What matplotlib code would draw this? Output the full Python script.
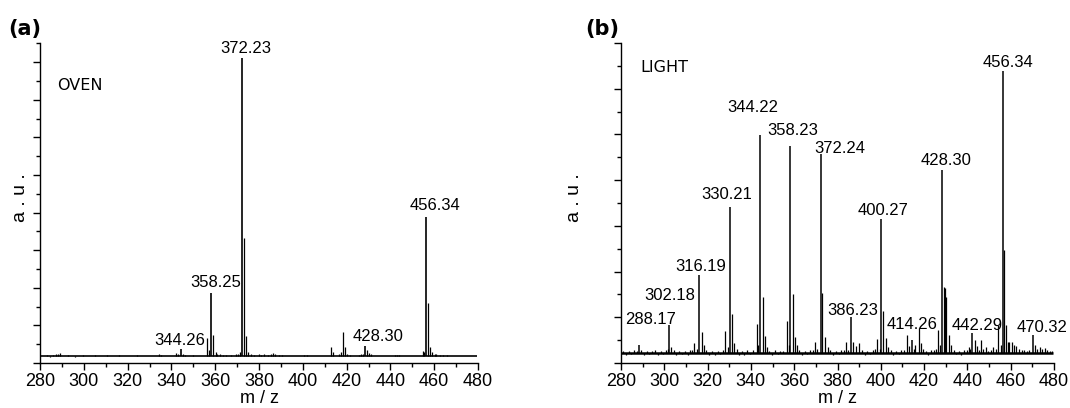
import numpy as np
import matplotlib.pyplot as plt
from matplotlib.ticker import MultipleLocator

plt.rcParams['font.family'] = ['Liberation Sans', 'DejaVu Sans']

# ---- OVEN spectrum (relative intensity, %) ----
oven_label_mz = [344.26, 358.25, 372.23, 428.30, 456.34]
oven_label_int = [2.3, 21.1, 100.0, 3.4, 46.6]

oven_mz = [283.0, 284.5, 286.0, 287.3, 288.2, 289.0, 292.8, 296.0, 299.5, 305.0,
           310.5, 316.0, 324.5, 334.3, 335.3, 342.2, 343.2, 345.3, 346.3, 350.0,
           356.4, 357.3, 359.2, 360.2, 361.0, 362.0, 363.5, 365.0, 367.0, 369.5,
           370.5, 371.4, 373.2, 374.2, 375.2, 376.2, 377.5, 380.0, 381.0, 382.5,
           384.0, 385.5, 386.3, 387.5, 389.0, 390.5, 400.5, 402.0, 412.8, 413.6,
           416.5, 417.4, 418.3, 419.2, 420.3, 421.5, 425.5, 426.5, 427.3, 429.3,
           430.3, 431.2, 442.2, 443.2, 444.0, 454.8, 455.5, 457.3, 458.3, 459.2,
           460.2, 461.0, 462.5, 464.0, 466.0]
oven_int = [0.4, -0.5, 0.5, 0.8, 0.6, 0.9, 0.4, -0.4, 0.4, 0.5,
            0.3, 0.4, 0.5, 0.6, 0.5, 1.0, 0.7, 0.8, 0.5, 0.3,
            6.0, 2.0, 7.0, 1.5, 0.8, 0.6, 0.5, 0.4, 0.4, 0.6,
            0.8, 1.2, 39.6, 6.7, 1.5, 0.8, 0.5, 0.6, 0.5, 0.6,
            0.5, 0.7, 1.0, 0.6, 0.5, 0.4, 0.4, 0.5, 3.0, 1.5,
            0.6, 1.2, 8.0, 3.0, 0.8, 0.5, 0.4, 0.6, 0.8, 2.0,
            1.0, 0.6, 0.4, 0.5, 0.4, 1.7, 1.2, 17.8, 3.0, 1.5,
            0.8, 0.6, 0.5, 0.4, 0.3]

# ---- LIGHT spectrum (relative intensity, %) ----
light_label_mz = [288.17, 302.18, 316.19, 330.21, 344.22, 358.23, 372.24,
                  386.23, 400.27, 414.26, 428.30, 442.29, 456.34, 470.32]
light_label_int = [2.8, 9.9, 27.7, 51.8, 77.3, 73.4, 70.6,
                   12.8, 47.5, 4.5, 64.9, 7.1, 100.0, 6.4]

light_mz = [281.0, 282.2, 283.5, 284.8, 286.0, 287.2, 289.3, 290.5, 291.8, 293.0,
            294.4, 295.6, 297.0, 298.3, 299.6, 300.8, 301.5, 303.2, 304.4, 305.6,
            307.0, 308.3, 309.5, 310.8, 312.0, 313.0, 313.7, 315.2, 317.2, 318.2,
            319.4, 320.6, 322.0, 323.3, 324.6, 325.8, 327.0, 328.0, 329.2, 331.3,
            332.3, 333.4, 334.6, 335.8, 337.0, 338.3, 339.6, 340.8, 342.7, 343.4,
            345.4, 346.3, 347.3, 348.5, 349.7, 351.0, 352.3, 353.5, 354.8, 356.7,
            357.4, 359.4, 360.2, 361.2, 362.4, 363.6, 364.8, 366.0, 367.3, 368.5,
            369.6, 370.6, 373.0, 374.3, 375.5, 376.7, 378.0, 379.2, 380.5, 381.8,
            383.0, 383.8, 385.0, 387.2, 388.5, 390.0, 391.2, 392.5, 393.7, 395.0,
            396.2, 397.4, 398.3, 399.4, 401.0, 402.3, 403.3, 404.5, 405.8, 407.0,
            408.3, 409.5, 410.8, 412.0, 413.2, 415.2, 416.0, 417.6, 418.5, 419.6,
            420.8, 422.0, 423.2, 424.4, 425.3, 426.3, 427.3, 429.0, 429.6, 430.3,
            431.3, 432.5, 433.6, 434.8, 436.0, 437.2, 438.5, 439.8, 440.6, 441.3,
            443.3, 444.5, 445.5, 446.3, 447.4, 448.5, 449.7, 451.0, 452.0, 453.2,
            454.1, 455.3, 457.0, 457.8, 458.6, 459.4, 460.5, 461.5, 462.6, 463.8,
            465.0, 466.2, 467.4, 468.6, 471.2, 472.3, 473.4, 474.6, 475.7, 476.8,
            478.0, 479.0]
light_int = [0.8, -0.6, 0.7, -0.5, 0.9, 0.6, 1.2, -0.6, 0.8, -0.5,
             0.7, 0.9, -0.7, 0.8, -0.5, 1.0, 1.5, 2.0, 1.2, -0.6,
             0.8, -0.5, 0.7, -0.6, 0.9, 1.1, 3.5, 1.5, 7.4, 3.0,
             1.2, -0.6, 0.8, -0.8, 0.7, -0.5, 1.0, 7.8, 2.0, 13.8,
             3.5, 1.5, -0.6, 0.8, -0.7, 0.9, -0.5, 1.0, 10.3, 3.0,
             19.9, 6.0, 2.0, 0.8, -0.6, 0.9, -0.5, 0.8, 0.7, 11.3,
             3.0, 20.9, 5.7, 3.0, 1.0, -0.6, 0.8, -0.5, 0.9, 1.2,
             3.9, 1.5, 21.3, 5.7, 2.0, 0.9, -0.6, 0.8, -0.5, 0.9,
             1.0, 3.9, 1.2, 3.9, 2.5, 3.5, 1.0, -0.6, 0.8, -0.5,
             0.9, 1.5, 5.0, 1.5, 14.9, 5.3, 2.0, 1.0, -0.6, 0.8,
             -0.5, 0.9, 1.2, 6.4, 2.5, 1.5, 2.8, 8.9, 3.5, 1.5,
             0.8, -0.6, 0.9, 1.0, 1.5, 8.2, 3.0, 23.4, 23.0, 20.0,
             6.4, 3.0, 1.2, -0.5, 0.8, -0.6, 0.9, 1.2, 2.0, 1.5,
             4.6, 2.5, 1.2, 4.6, 1.5, 2.0, 0.8, 1.0, 2.0, 1.5,
             9.9, 3.0, 36.5, 9.9, 4.0, 4.0, 4.0, 3.0, 2.5, 1.5,
             1.0, 1.2, 0.8, 1.0, 3.0, 1.5, 2.0, 1.5, 1.8, 1.2,
             0.8, 0.6]

# label offsets from the peak tip, in pixels
oven_offsets = [(-1, 4), (4, 6), (4, 5), (13, 5), (9, 7)]
light_offsets = [(12, 21), (1, 25), (1, 4), (-3, 8), (-7, 23), (2, 11), (19, 1),
                 (2, 2), (2, 4), (0, 11), (4, 5), (5, 3), (5, 4), (9, 3)]


def draw_spectrum(ax, mz, inten, base_lw):
    ax.hlines(0, 280, 479.5, color='k', lw=base_lw)
    ax.vlines(mz, 0, inten, color='k', lw=0.9)


def style_axes(ax, y_low, y_high, y_step):
    ax.set_xlim(280, 480)
    ax.set_ylim(y_low, y_high)
    for side in ('top', 'right'):
        ax.spines[side].set_visible(False)
    for side in ('left', 'bottom'):
        ax.spines[side].set_linewidth(1.0)
    ax.xaxis.set_major_locator(MultipleLocator(20))
    ax.xaxis.set_minor_locator(MultipleLocator(10))
    ax.set_yticks(np.arange(y_low, y_high + 0.2, y_step))
    ax.set_yticks(np.arange(y_low + y_step / 2, y_high + 0.2, y_step), minor=True)
    ax.set_yticklabels([])
    ax.tick_params(which='major', length=5, width=1.0, direction='out',
                   labelsize=13, pad=2.5)
    ax.tick_params(which='minor', length=3, width=1.0, direction='out')


def label_peaks(ax, mz, inten, offsets):
    for m, h, (dx, dy) in zip(mz, inten, offsets):
        ax.annotate('%.2f' % m, xy=(m, h), xytext=(dx, dy),
                    textcoords='offset pixels', ha='center', va='baseline',
                    fontsize=12)


fig = plt.figure(figsize=(10.70, 4.08), dpi=100)
ax_a = fig.add_axes([40 / 1070, 45 / 408, 438 / 1070, 320 / 408])
ax_b = fig.add_axes([621 / 1070, 45 / 408, 433 / 1070, 320 / 408])

# (a) OVEN
draw_spectrum(ax_a, oven_mz, oven_int, 1.2)
ax_a.vlines(oven_label_mz, 0, oven_label_int, color='k', lw=1.2)
style_axes(ax_a, -2.349, 105.03, 12.617)
label_peaks(ax_a, oven_label_mz, oven_label_int, oven_offsets)

# (b) LIGHT
draw_spectrum(ax_b, light_mz, light_int, 1.8)
ax_b.vlines(light_label_mz, 0, light_label_int, color='k', lw=1.1)
style_axes(ax_b, -3.546, 109.93, 16.21)
label_peaks(ax_b, light_label_mz, light_label_int, light_offsets)

# x-axis label, baseline a few pixels above the bottom edge
for ax in (ax_a, ax_b):
    ax.text(0.5, -0.125, 'm / z', transform=ax.transAxes, ha='center',
            va='baseline', fontsize=13)

fig.text(20.4 / 1070, 1 - 197.5 / 408, 'a . u .', rotation=90, ha='center',
         va='center', fontsize=14)
fig.text(574.4 / 1070, 1 - 198 / 408, 'a . u .', rotation=90, ha='center',
         va='center', fontsize=14)

fig.text(8 / 1070, 1 - 35 / 408, '(a)', fontsize=15, fontweight='bold',
         family='DejaVu Sans', ha='left', va='baseline')
fig.text(585 / 1070, 1 - 35 / 408, '(b)', fontsize=15, fontweight='bold',
         family='DejaVu Sans', ha='left', va='baseline')

fig.text(57 / 1070, 1 - 90 / 408, 'OVEN', fontsize=11.5, family='DejaVu Sans',
         ha='left', va='baseline')
fig.text(640 / 1070, 1 - 72 / 408, 'LIGHT', fontsize=11.5, family='DejaVu Sans',
         ha='left', va='baseline')

fig.savefig('out.png', dpi=100)
